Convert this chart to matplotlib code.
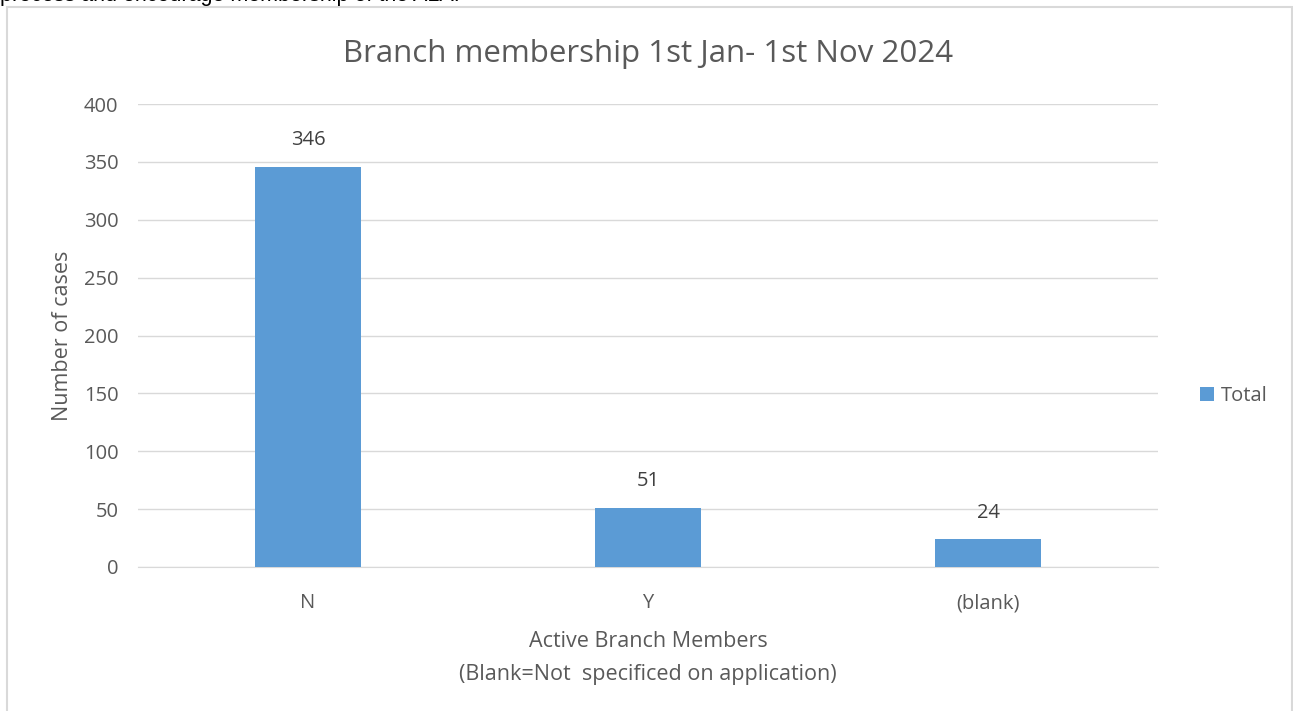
import matplotlib.pyplot as plt
from matplotlib.patches import Rectangle

categories = ["N", "Y", "(blank)"]
totals = [346, 51, 24]
yticks = [0, 50, 100, 150, 200, 250, 300, 350, 400]

plt.rcParams['font.family'] = ['Open Sans', 'DejaVu Sans']
grey = '#595959'
blue = '#5B9BD5'

fig = plt.figure(figsize=(12.93, 7.11), dpi=100)

# cut-off line of page text above the chart
fig.text(0.0, 1 - 1 / 711, "process and encourage membership of the ALA.",
         fontsize=15.5, family='Liberation Sans', color='black', va='baseline', ha='left')

# chart border
fig.patches.append(Rectangle((7 / 1293, -0.01), (1285) / 1293, (704 / 711) + 0.01,
                             transform=fig.transFigure, fill=False,
                             edgecolor='#d9d9d9', linewidth=1.5))

ax = fig.add_axes([138 / 1293, 144 / 711, 1020 / 1293, 463 / 711])
x = range(len(categories))
bars = ax.bar(x, totals, width=0.31, color=blue, label="Total", zorder=3)
ax.set_xlim(-0.5, 2.5)
ax.set_ylim(0, 400)
ax.set_yticks(yticks)
ax.set_xticks(list(x))
ax.set_xticklabels(categories)
ax.grid(axis='y', color='#d9d9d9', linewidth=1)
ax.set_axisbelow(True)
for s in ['top', 'right', 'left']:
    ax.spines[s].set_visible(False)
ax.spines['bottom'].set_color('#d9d9d9')
ax.tick_params(length=0, colors=grey, labelsize=14.5)
ax.tick_params(axis='x', pad=19)
ax.tick_params(axis='y', pad=14)

for b, v in zip(bars, totals):
    ax.annotate(str(v), (b.get_x() + b.get_width() / 2, v), xytext=(0, 12),
                textcoords='offset points', ha='center', va='bottom',
                fontsize=14.5, color='#404040')

ax.set_title("Branch membership 1st Jan- 1st Nov 2024", fontsize=22.5, color=grey, pad=30)
ax.set_ylabel("Number of cases", fontsize=15.5, color=grey, labelpad=8)
ax.set_xlabel("Active Branch Members\n(Blank=Not  specificed on application)",
              fontsize=15.5, color=grey, labelpad=13, linespacing=1.75)

fig.legend(loc='center left', bbox_to_anchor=(1182 / 1293, 1 - 396 / 711), frameon=False,
           fontsize=14.5, handlelength=0.7, handleheight=0.7, handletextpad=0.35,
           labelcolor=grey)

fig.savefig("out.png", dpi=100)
